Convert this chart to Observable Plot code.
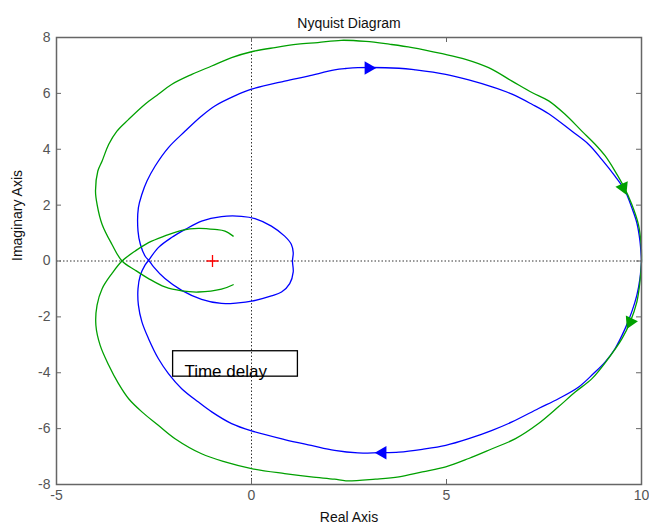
<!DOCTYPE html>
<html><head><meta charset="utf-8">
<script src="https://cdn.jsdelivr.net/npm/d3@7"></script>
<script src="https://cdn.jsdelivr.net/npm/@observablehq/plot@0.6"></script>
<style>html,body{margin:0;padding:0;background:#fff;} #chart svg{display:block}</style>
</head><body><div id="chart"></div>
<script>
const title = "Nyquist Diagram";
const xLabel = "Real Axis";
const yLabel = "Imaginary Axis";
const xTicks = [-5, 0, 5, 10];
const yTicks = [-8, -6, -4, -2, 0, 2, 4, 6, 8];

// Blue curve (no delay), full closed Nyquist contour
const blueRe = [10.0, 9.96, 9.88, 9.75, 9.58, 9.32, 9.07, 8.77, 8.39, 7.87, 7.36, 6.68, 6.17, 5.57, 4.98, 4.38, 3.78, 3.27, 2.73, 2.13, 1.53, 0.85, 0.00, -0.51, -1.02, -1.36, -1.79, -2.13, -2.39, -2.64, -2.81, -2.90, -2.91, -2.85, -2.73, -2.62, -2.39, -2.05, -1.70, -1.28, -0.77, -0.26, 0.09, 0.51, 0.85, 1.02, 1.07, 1.05, 1.07, 0.98, 0.77, 0.51, 0.00, -0.34, -0.77, -1.28, -1.79, -2.22, -2.51, -2.62, -2.73, -2.85, -2.91, -2.90, -2.81, -2.68, -2.47, -2.13, -1.70, -1.28, -0.94, -0.43, 0.00, 0.85, 1.45, 2.13, 2.42, 2.73, 3.78, 4.21, 4.98, 5.57, 6.17, 6.68, 7.19, 7.62, 8.21, 8.64, 8.98, 9.32, 9.58, 9.75, 9.88, 9.96, 10.0];
const blueIm = [0, -0.63, -1.23, -1.82, -2.42, -3.14, -3.61, -4.03, -4.51, -4.93, -5.28, -5.76, -6.06, -6.36, -6.60, -6.74, -6.84, -6.86, -6.87, -6.78, -6.60, -6.39, -6.08, -5.82, -5.40, -5.05, -4.57, -4.03, -3.49, -2.78, -2.18, -1.58, -0.99, -0.51, -0.15, 0.06, 0.48, 0.84, 1.13, 1.43, 1.59, 1.60, 1.52, 1.25, 0.89, 0.60, 0.30, 0, -0.39, -0.81, -1.11, -1.25, -1.44, -1.50, -1.52, -1.37, -1.05, -0.63, -0.21, 0, 0.18, 0.60, 1.07, 1.91, 2.39, 2.86, 3.40, 4.06, 4.65, 5.19, 5.55, 5.91, 6.15, 6.44, 6.62, 6.84, 6.89, 6.92, 6.90, 6.84, 6.68, 6.48, 6.23, 5.97, 5.61, 5.27, 4.65, 4.18, 3.64, 3.04, 2.51, 1.91, 1.37, 0.72, 0];

// Green curve (with time delay)
const greenRe = [-0.47, -0.77, -1.36, -1.79, -2.22, -2.64, -2.98, -3.32, -3.58, -3.83, -3.96, -4.00, -3.94, -3.83, -3.66, -3.45, -3.15, -2.73, -2.39, -2.05, -1.53, -1.02, -0.51, 0.00, 0.60, 1.19, 1.70, 2.30, 2.93, 3.53, 4.12, 4.89, 5.49, 6.08, 6.68, 7.19, 7.62, 8.04, 8.47, 8.81, 9.07, 9.32, 9.54, 9.75, 9.92, 9.99, 10.0, 9.96, 9.88, 9.71, 9.50, 9.15, 8.73, 8.30, 7.87, 7.36, 6.77, 6.17, 5.57, 4.98, 4.38, 3.78, 3.18, 2.42, 2.13, 1.53, 0.85, 0.00, -0.68, -1.28, -1.96, -2.39, -2.81, -3.15, -3.41, -3.66, -3.88, -3.99, -3.96, -3.83, -3.58, -3.32, -2.98, -2.64, -2.22, -1.79, -1.36, -0.94, -0.68, -0.47];
const greenIm = [-0.85, -1.01, -1.11, -1.07, -0.93, -0.63, -0.33, 0, 0.60, 1.31, 2.03, 2.51, 3.22, 3.58, 4.18, 4.65, 5.07, 5.61, 5.97, 6.32, 6.68, 6.98, 7.28, 7.49, 7.64, 7.76, 7.82, 7.90, 7.86, 7.76, 7.64, 7.42, 7.22, 6.92, 6.44, 6.03, 5.73, 5.25, 4.65, 4.18, 3.76, 3.22, 2.68, 2.03, 1.31, 0.60, 0, -0.75, -1.47, -2.18, -2.78, -3.49, -4.21, -4.69, -5.22, -5.82, -6.36, -6.72, -7.07, -7.37, -7.55, -7.73, -7.81, -7.87, -7.81, -7.73, -7.61, -7.43, -7.19, -6.90, -6.36, -5.88, -5.40, -4.93, -4.39, -3.73, -3.02, -2.30, -1.58, -0.99, -0.45, 0, 0.36, 0.66, 0.90, 1.10, 1.17, 1.13, 1.07, 0.89];

// Direction arrows
const arrowRe = [3.0, 3.36, 9.53, 9.71];
const arrowIm = [6.91, -6.86, 2.63, -2.18];
const arrowAngle = [90, -90, 156, 206];
const arrowSeries = ["blue", "blue", "green", "green"];

const criticalRe = [-1];
const criticalIm = [0];

const noteText = "Time delay";
const noteBoxRe = [-2.01, 1.19];
const noteBoxIm = [-3.23, -4.14];
const noteTextRe = -1.72;
const noteTextIm = -3.94;

const toPts = (re, im) => re.map((x, i) => ({x, y: im[i]}));
const blue = toPts(blueRe, blueIm);
const green = toPts(greenRe, greenIm);
const arrows = arrowRe.map((x, i) => ({x, y: arrowIm[i], a: arrowAngle[i], s: arrowSeries[i]}));
const crit = toPts(criticalRe, criticalIm);
const note = [{x1: noteBoxRe[0], x2: noteBoxRe[1], y1: noteBoxIm[0], y2: noteBoxIm[1], tx: noteTextRe, ty: noteTextIm, text: noteText}];

const W = 649, H = 528, mL = 56, mR = 8, mT = 37, mB = 44;
const iw = W - mL - mR, ih = H - mT - mB;
const axisColor = "#666";
const labelColor = "#555";
const tl = 5;
const font = "'Liberation Sans', Arial, Helvetica, sans-serif";
const BLUE = "#0000ff", GREEN = "#00a000";

const chart = Plot.plot({
  width: W, height: H,
  marginLeft: mL, marginRight: mR, marginTop: mT, marginBottom: mB,
  style: {fontFamily: font, fontSize: "14px", background: "#fff", overflow: "visible"},
  x: {domain: [-5, 10]},
  y: {domain: [-8, 8]},
  marks: [
    Plot.ruleX([0], {stroke: "#333", strokeDasharray: "1.5,2", strokeWidth: 1}),
    Plot.ruleY([0], {stroke: "#333", strokeDasharray: "1.5,2", strokeWidth: 1}),
    Plot.line(blue, {x: "x", y: "y", stroke: BLUE, strokeWidth: 1.3, curve: "catmull-rom"}),
    Plot.line(green, {x: "x", y: "y", stroke: GREEN, strokeWidth: 1.3, curve: "catmull-rom"}),
    Plot.dot(arrows.filter(d => d.s === "blue"), {x: "x", y: "y", rotate: "a", symbol: "triangle", r: 5, fill: BLUE, stroke: null}),
    Plot.dot(arrows.filter(d => d.s === "green"), {x: "x", y: "y", rotate: "a", symbol: "triangle", r: 5, fill: GREEN, stroke: null}),
    Plot.dot(crit, {x: "x", y: "y", symbol: "plus", r: 4, stroke: "#ff0000", strokeWidth: 1.3}),
    Plot.rect(note, {x1: "x1", x2: "x2", y1: "y1", y2: "y2", fill: "none", stroke: "#000", strokeWidth: 1.3}),
    Plot.text(note, {x: "tx", y: "ty", text: "text", textAnchor: "start", fontSize: 17, fill: "#000"}),
    Plot.frame({stroke: axisColor, strokeWidth: 1.5}),
    Plot.tickX(xTicks, {x: d => d, insetTop: ih - tl, stroke: axisColor}),
    Plot.tickX(xTicks, {x: d => d, insetBottom: ih - tl, stroke: axisColor}),
    Plot.tickY(yTicks, {y: d => d, insetRight: iw - tl, stroke: axisColor}),
    Plot.tickY(yTicks, {y: d => d, insetLeft: iw - tl, stroke: axisColor}),
    Plot.axisX(xTicks, {tickSize: 0, tickPadding: 6, label: null, color: labelColor, fontSize: 14, tickFormat: d => String(d)}),
    Plot.axisY(yTicks, {tickSize: 0, tickPadding: 6, label: null, color: labelColor, fontSize: 14, tickFormat: d => String(d)}),
    Plot.text([title], {frameAnchor: "top", dy: -19, text: d => d, fontSize: 14, fill: "#111"}),
    Plot.text([xLabel], {frameAnchor: "bottom", dy: 37, text: d => d, fontSize: 14, fill: "#111"}),
    Plot.text([yLabel], {frameAnchor: "left", dx: -39, rotate: -90, text: d => d, fontSize: 14, fill: "#111"})
  ]
});
document.getElementById("chart").appendChild(chart);
</script>
</body></html>
